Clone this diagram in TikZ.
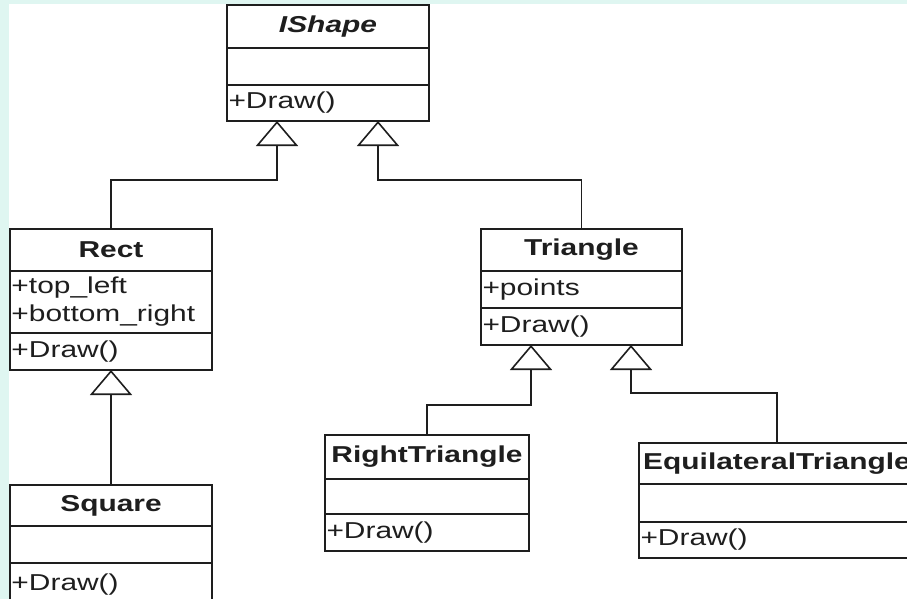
\documentclass[tikz,border=0pt]{standalone}
\usepackage{fontspec}
\newfontfamily\umlfont[FakeStretch=1.3]{Liberation Sans}
\usetikzlibrary{arrows.meta}
\usetikzlibrary{positioning}

\definecolor{bgcyan}{HTML}{DFF6F1}
\definecolor{umlline}{HTML}{1E1E1E}

\tikzset{
    umlbox/.style={rectangle, draw=umlline, line width=1.6pt, outer sep=0pt, inner sep=0pt, anchor=north west, text=umlline, font=\umlfont\fontsize{23}{28}\selectfont},
    umltitle/.style={umlbox, font=\umlfont\fontsize{23}{28}\selectfont\bfseries},
    umlpart/.style={umlbox, inner xsep=1.5pt, align=left},
    inherit/.style={draw=umlline, line width=1.6pt, -{Triangle[open, length=25pt, width=42pt]}}
}

\begin{document}
\begin{tikzpicture}[x=1pt, y=-1pt]
    \useasboundingbox (0,0) rectangle (907,599);
    \fill [bgcyan] (0,0) rectangle (907,599);
    \fill [white] (9,4) rectangle (907,599);
    \clip (0,0) rectangle (907,599);

    % IShape
    \node [umltitle, minimum width=202pt, minimum height=43pt] (ishape) at (227,5) {\itshape IShape};
    \node [umlpart, minimum width=202pt, text width=199pt, minimum height=37pt] (ishape-attr) at (ishape.south west) {};
    \node [umlpart, minimum width=202pt, text width=199pt, minimum height=36pt] (ishape-ops) at (ishape-attr.south west) {+Draw()};

    % Rect
    \node [umltitle, minimum width=202pt, minimum height=42pt] (rect) at (10,229) {Rect};
    \node [umlpart, minimum width=202pt, text width=199pt, minimum height=62pt] (rect-attr) at (rect.south west) {+top\_left\\+bottom\_right};
    \node [umlpart, minimum width=202pt, text width=199pt, minimum height=37pt] (rect-ops) at (rect-attr.south west) {+Draw()};

    % Square
    \node [umltitle, minimum width=202pt, minimum height=41pt] (square) at (10,485) {Square};
    \node [umlpart, minimum width=202pt, text width=199pt, minimum height=37pt] (square-attr) at (square.south west) {};
    \node [umlpart, minimum width=202pt, text width=199pt, minimum height=44pt] (square-ops) at (square-attr.south west) {+Draw()};

    % Triangle
    \node [umltitle, minimum width=201pt, minimum height=42pt] (tri) at (481,229) {Triangle};
    \node [umlpart, minimum width=201pt, text width=198pt, minimum height=37pt] (tri-attr) at (tri.south west) {+points};
    \node [umlpart, minimum width=201pt, text width=198pt, minimum height=37pt] (tri-ops) at (tri-attr.south west) {+Draw()};

    % RightTriangle
    \node [umltitle, minimum width=204pt, minimum height=44pt] (rtri) at (325,435) {RightTriangle};
    \node [umlpart, minimum width=204pt, text width=201pt, minimum height=35pt] (rtri-attr) at (rtri.south west) {};
    \node [umlpart, minimum width=204pt, text width=201pt, minimum height=37pt] (rtri-ops) at (rtri-attr.south west) {+Draw()};

    % EquilateralTriangle
    \node [umltitle, minimum width=276pt, minimum height=41pt] (etri) at (639,443) {EquilateralTriangle};
    \node [umlpart, minimum width=276pt, text width=273pt, minimum height=38pt] (etri-attr) at (etri.south west) {};
    \node [umlpart, minimum width=276pt, text width=273pt, minimum height=36pt] (etri-ops) at (etri-attr.south west) {+Draw()};

    % arrow ends
    \coordinate (ishape-l) at ([xshift=-51pt]ishape-ops.south);
    \coordinate (ishape-r) at ([xshift=50pt]ishape-ops.south);
    \coordinate (tri-l) at ([xshift=-50.5pt]tri-ops.south);
    \coordinate (tri-r) at ([xshift=49.5pt]tri-ops.south);

    \draw [inherit] (rect.north) -- ++(0,-49) -| (ishape-l);
    \draw [inherit] (tri.north) -- ++(0,-49) -| (ishape-r);
    \draw [inherit] (square.north) -- (rect-ops.south);
    \draw [inherit] (rtri.north) -- ++(0,-30) -| (tri-l);
    \draw [inherit] (etri.north) -- ++(0,-50) -| (tri-r);
\end{tikzpicture}
\end{document}
